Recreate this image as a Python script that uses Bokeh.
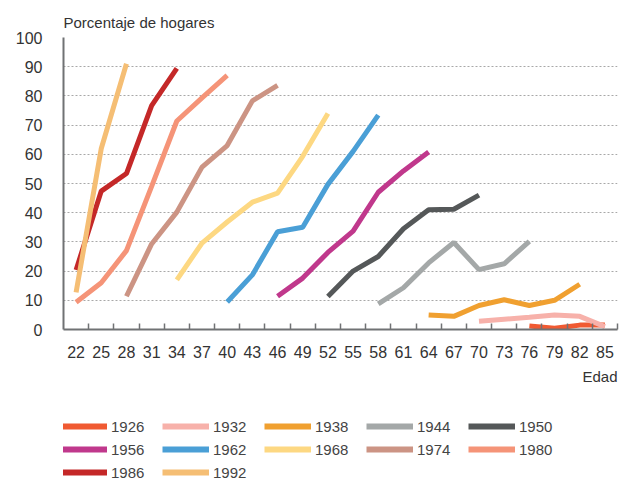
from bokeh.plotting import figure
from bokeh.layouts import column
from bokeh.models import Range1d, FixedTicker, Title, Legend, LegendItem
from bokeh.embed import file_html
from bokeh.resources import INLINE

# ---- data ----
ages = [22, 25, 28, 31, 34, 37, 40, 43, 46, 49, 52, 55, 58, 61, 64, 67, 70, 73, 76, 79, 82, 85]
y_ticks = [0, 10, 20, 30, 40, 50, 60, 70, 80, 90, 100]

cohorts = ["1926", "1932", "1938", "1944", "1950", "1956",
           "1962", "1968", "1974", "1980", "1986", "1992"]
colors = ["#f05a32", "#f7b1aa", "#f0a030", "#a4a8a8", "#555859", "#c0388c",
          "#4a9fd6", "#fdd882", "#cc9484", "#f59478", "#c42828", "#f5be74"]

ages_1926 = [76, 79, 82, 85]
vals_1926 = [1.2, 0.4, 1.5, 1.5]
ages_1932 = [70, 73, 76, 79, 82, 85]
vals_1932 = [2.8, 3.5, 4.2, 5.0, 4.5, 1.0]
ages_1938 = [64, 67, 70, 73, 76, 79, 82]
vals_1938 = [5.0, 4.5, 8.2, 10.2, 8.2, 10.0, 15.5]
ages_1944 = [58, 61, 64, 67, 70, 73, 76]
vals_1944 = [8.8, 14.3, 22.8, 29.8, 20.5, 22.5, 30.2]
ages_1950 = [52, 55, 58, 61, 64, 67, 70]
vals_1950 = [11.3, 20.0, 25.0, 34.5, 41.0, 41.2, 46.0]
ages_1956 = [46, 49, 52, 55, 58, 61, 64]
vals_1956 = [11.4, 17.6, 26.4, 33.7, 47.0, 54.3, 60.8]
ages_1962 = [40, 43, 46, 49, 52, 55, 58]
vals_1962 = [9.4, 18.7, 33.5, 35.0, 49.7, 61.0, 73.4]
ages_1968 = [34, 37, 40, 43, 46, 49, 52]
vals_1968 = [17.0, 29.6, 36.8, 43.6, 46.7, 59.3, 74.0]
ages_1974 = [28, 31, 34, 37, 40, 43, 46]
vals_1974 = [11.4, 29.3, 40.2, 55.6, 63.0, 78.3, 83.6]
ages_1980 = [22, 25, 28, 31, 34, 37, 40]
vals_1980 = [9.3, 16.0, 27.0, 49.0, 71.4, 79.3, 87.0]
ages_1986 = [22, 25, 28, 31, 34]
vals_1986 = [20.4, 47.4, 53.4, 76.7, 89.4]
ages_1992 = [22, 25, 28]
vals_1992 = [12.7, 62.0, 91.0]

series_ages = [ages_1926, ages_1932, ages_1938, ages_1944, ages_1950, ages_1956,
               ages_1962, ages_1968, ages_1974, ages_1980, ages_1986, ages_1992]
series_vals = [vals_1926, vals_1932, vals_1938, vals_1944, vals_1950, vals_1956,
               vals_1962, vals_1968, vals_1974, vals_1980, vals_1986, vals_1992]

FONT = "Liberation Sans"
TXT = "#333333"
AXC = "#707274"

step = ages[1] - ages[0]
p = figure(width=629, height=400, output_backend="svg", toolbar_location=None,
           x_range=Range1d(ages[0] - step / 2, ages[-1] + step / 2),
           y_range=Range1d(0, 100),
           min_border_left=63, min_border_right=12, min_border_top=37, min_border_bottom=71)
p.outline_line_color = None
p.background_fill_color = "white"
p.border_fill_color = "white"

p.title.text = "Porcentaje de hogares"
p.title.align = "left"
p.title.text_font = FONT
p.title.text_font_size = "15px"
p.title.text_font_style = "normal"
p.title.text_color = TXT
p.title.standoff = 14

for name, col, xs, ys in zip(cohorts, colors, series_ages, series_vals):
    p.line(xs, ys, line_color=col, line_width=5)

# x axis
xa = p.xaxis[0]
xa.ticker = FixedTicker(ticks=ages, minor_ticks=[a + step / 2 for a in ages])
xa.axis_line_color = AXC
xa.axis_line_width = 2
xa.major_tick_line_color = None
xa.major_tick_in = 0
xa.major_tick_out = 0
xa.minor_tick_line_color = AXC
xa.minor_tick_line_width = 1.5
xa.minor_tick_in = 6
xa.minor_tick_out = 0
xa.major_label_text_font = FONT
xa.major_label_text_font_size = "16px"
xa.major_label_text_color = TXT
xa.major_label_standoff = 16

ya = p.yaxis[0]
ya.ticker = FixedTicker(ticks=y_ticks)
ya.axis_line_color = AXC
ya.axis_line_width = 2
ya.major_tick_line_color = None
ya.major_tick_in = 0
ya.major_tick_out = 0
ya.minor_tick_line_color = None
ya.major_label_text_font = FONT
ya.major_label_text_font_size = "16px"
ya.major_label_text_color = TXT
ya.major_label_standoff = 21

p.xgrid.visible = False
p.ygrid.grid_line_color = "#a8a8a8"
p.ygrid.grid_line_dash = "2 2"
p.ygrid.grid_line_width = 1

edad = Title(text="Edad", align="right", text_font=FONT, text_font_size="15px",
             text_font_style="normal", text_color=TXT, standoff=10)
p.add_layout(edad, "below")

# ---- legend figure (series drawn out of its view; only the legend shows) ----
lg = figure(width=629, height=79, output_backend="svg", toolbar_location=None,
            x_range=Range1d(0, 1), y_range=Range1d(0, 1),
            x_axis_location=None, y_axis_location=None,
            min_border_left=0, min_border_right=0, min_border_top=0, min_border_bottom=0)
lg.outline_line_color = None
lg.grid.visible = False

items = []
for name, col, xs, ys in zip(cohorts, colors, series_ages, series_vals):
    r = lg.line(xs, ys, line_color=col, line_width=6)
    items.append(LegendItem(label=name, renderers=[r]))

legend = Legend(items=items, orientation="horizontal", ncols=5,
                location=(-3, -2), padding=0, margin=0, spacing=5,
                glyph_width=47, glyph_height=18, label_height=18, label_width=46,
                label_standoff=4, label_text_font=FONT,
                label_text_font_size="15px", label_text_color="#444444",
                border_line_color=None, background_fill_alpha=0)
lg.add_layout(legend)

open("out.html", "w").write(file_html(column(p, lg), INLINE))
